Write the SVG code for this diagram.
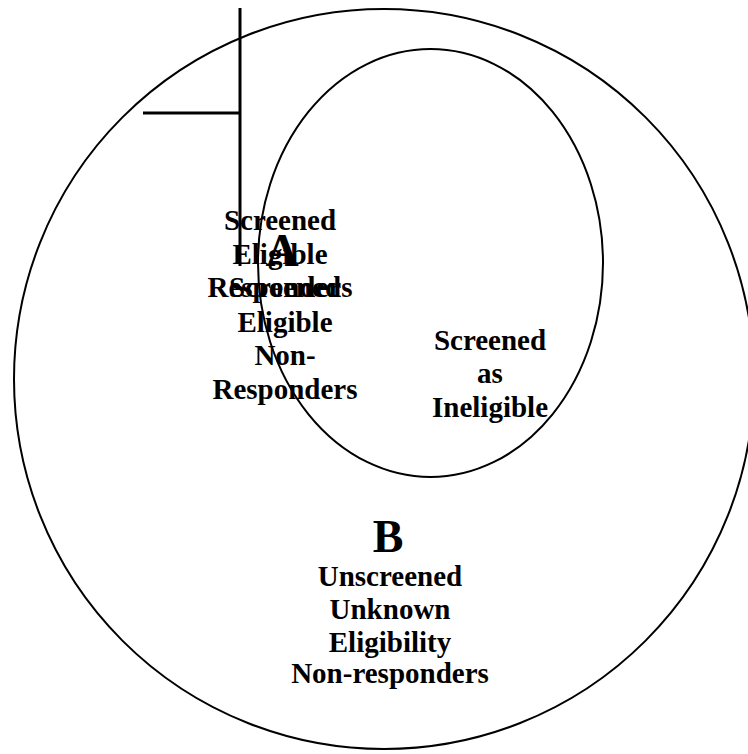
<svg xmlns="http://www.w3.org/2000/svg" width="748" height="754" viewBox="0 0 748 754">
<style>
.ring{fill:none;stroke:#000;stroke-width:2}
.bar{stroke:#000;stroke-width:3;fill:none}
text{font-family:"Liberation Serif","Times New Roman",serif;font-weight:bold;fill:#000;text-anchor:middle}
.t{font-size:29px}
.big{font-size:46px}
</style>
<rect width="748" height="754" fill="#fff"/>
<g id="outer"><ellipse class="ring" cx="384" cy="379" rx="370" ry="370"/></g>
<g id="inner"><ellipse class="ring" cx="430.5" cy="263" rx="172.5" ry="214"/></g>
<g id="connectors">
<line class="bar" x1="240" y1="8" x2="240" y2="266"/>
<line class="bar" x1="143" y1="113" x2="240" y2="113"/>
</g>
<g id="labelA"><text class="big" x="282" y="266">A</text></g>
<g id="responders">
<text class="t" x="280" y="230">Screened</text>
<text class="t" x="280" y="263.5">Eligible</text>
<text class="t" x="280" y="297">Responders</text>
</g>
<g id="nonresponders">
<text class="t" x="285" y="297">Screened</text>
<text class="t" x="285" y="331.5">Eligible</text>
<text class="t" x="285" y="365">Non-</text>
<text class="t" x="285" y="398.5">Responders</text>
</g>
<g id="ineligible">
<text class="t" x="490" y="350">Screened</text>
<text class="t" x="490" y="383">as</text>
<text class="t" x="490" y="416.5">Ineligible</text>
</g>
<g id="labelB">
<text class="big" x="388" y="552">B</text>
<text class="t" x="390" y="586">Unscreened</text>
<text class="t" x="390" y="619">Unknown</text>
<text class="t" x="390" y="651.5">Eligibility</text>
<text class="t" x="390" y="683">Non-responders</text>
</g>
</svg>
